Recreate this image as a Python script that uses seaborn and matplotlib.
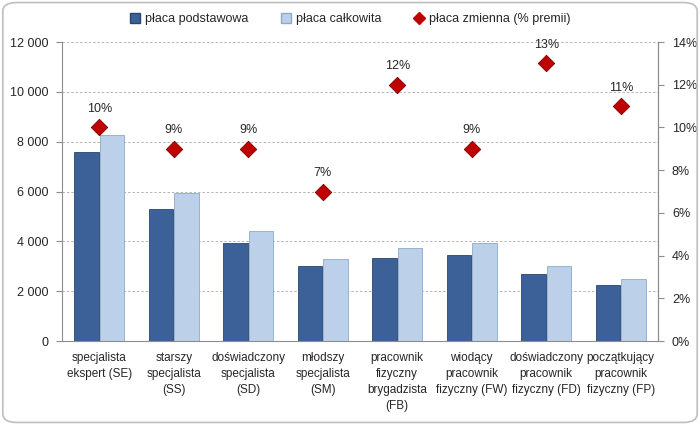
import pandas as pd
import matplotlib.pyplot as plt
import seaborn as sns
from matplotlib.patches import FancyBboxPatch, Patch
from matplotlib.ticker import FuncFormatter, MultipleLocator
from matplotlib.lines import Line2D

# Data
categories = [
    "specjalista\nekspert (SE)",
    "starszy\nspecjalista\n(SS)",
    "doświadczony\nspecjalista\n(SD)",
    "młodszy\nspecjalista\n(SM)",
    "pracownik\nfizyczny\nbrygadzista\n(FB)",
    "wiodący\npracownik\nfizyczny (FW)",
    "doświadczony\npracownik\nfizyczny (FD)",
    "początkujący\npracownik\nfizyczny (FP)",
]
placa_podstawowa = [7600, 5300, 3950, 3000, 3350, 3450, 2700, 2250]
placa_calkowita = [8270, 5950, 4400, 3300, 3750, 3950, 3000, 2500]
placa_zmienna = [10, 9, 9, 7, 12, 9, 13, 11]

series_names = ["płaca podstawowa", "płaca całkowita", "płaca zmienna (% premii)"]

df = pd.DataFrame({
    "kategoria": categories * 2,
    "placa": placa_podstawowa + placa_calkowita,
    "seria": [series_names[0]] * len(categories) + [series_names[1]] * len(categories),
})
df_pct = pd.DataFrame({"kategoria": categories, "pct": placa_zmienna})

dark_blue = "#3B6198"
light_blue = "#BDD0EA"
red = "#C00000"
axis_grey = "#8C8C8C"

sns.set_style("white")
plt.rcParams["font.family"] = ["Liberation Sans", "DejaVu Sans"]
fs = 8.5

fig = plt.figure(figsize=(7, 4.25), dpi=100)
ax = fig.add_axes([0.0886, 0.1976, 0.8514, 0.7034])

sns.barplot(
    data=df, x="kategoria", y="placa", hue="seria",
    palette=[dark_blue, light_blue], saturation=1, width=0.68, gap=0.03,
    edgecolor="#2A4670", linewidth=0.6, legend=False, ax=ax,
)
# lighter edge for the light bars
for p in ax.patches[len(categories):]:
    p.set_edgecolor("#8FA9CC")

ax.set_ylim(0, 12000)
ax.set_xlim(-0.5, len(categories) - 0.5)
ax.yaxis.set_major_locator(MultipleLocator(2000))
ax.yaxis.set_major_formatter(FuncFormatter(lambda v, _: f"{int(v):,}".replace(",", " ")))
ax.yaxis.grid(True, linestyle=(0, (2.5, 2)), color="#B4B4B4", linewidth=0.7)
ax.set_axisbelow(True)
ax.set_xlabel("")
ax.set_ylabel("")

ax.spines["top"].set_visible(False)
for side in ["left", "bottom", "right"]:
    ax.spines[side].set_color(axis_grey)
    ax.spines[side].set_linewidth(0.8)

ax.tick_params(axis="y", which="major", length=4, color=axis_grey, labelsize=fs + 0.5, pad=6)
ax.tick_params(axis="x", which="major", length=0, labelsize=fs, pad=8)
for lbl in ax.get_xticklabels():
    lbl.set_linespacing(1.45)
ax.set_xticks([i - 0.5 for i in range(len(categories) + 1)], minor=True)
ax.tick_params(axis="x", which="minor", length=5, color=axis_grey)

ax2 = ax.twinx()
sns.scatterplot(
    data=df_pct, x="kategoria", y="pct", marker="D", s=70,
    color=red, edgecolor="#7A0000", linewidth=0.6, ax=ax2, zorder=5,
)
for i, v in enumerate(placa_zmienna):
    ax2.annotate(f"{v}%", (i, v), xytext=(0, 9), textcoords="offset points",
                 ha="center", va="bottom", fontsize=fs + 0.5)
ax2.set_ylim(0, 14)
ax2.yaxis.set_major_locator(MultipleLocator(2))
ax2.yaxis.set_major_formatter(FuncFormatter(lambda v, _: f"{int(v)}%"))
ax2.set_ylabel("")
ax2.set_xlabel("")
for side in ["top", "left", "bottom"]:
    ax2.spines[side].set_visible(False)
ax2.spines["right"].set_color(axis_grey)
ax2.spines["right"].set_linewidth(0.8)
ax2.tick_params(axis="y", length=4, color=axis_grey, labelsize=fs + 0.5, pad=6)
ax2.set_xlim(-0.5, len(categories) - 0.5)

handles = [
    Patch(facecolor=dark_blue, edgecolor="#2A4670"),
    Patch(facecolor=light_blue, edgecolor="#8FA9CC"),
    Line2D([], [], marker="D", linestyle="none", color=red, markersize=6),
]
fig.legend(handles, series_names, loc="center", bbox_to_anchor=(0.5, 0.955),
           ncol=3, frameon=False, fontsize=fs + 0.5, handlelength=0.8, handleheight=0.8,
           columnspacing=2.6, handletextpad=0.4)

border = FancyBboxPatch((0.004, 0.006), 0.992, 0.988, boxstyle="round,pad=0,rounding_size=0.02",
                        transform=fig.transFigure, facecolor="none",
                        edgecolor="#BFBFBF", linewidth=1.2)
fig.patches.append(border)

fig.savefig("out.png", dpi=100)
